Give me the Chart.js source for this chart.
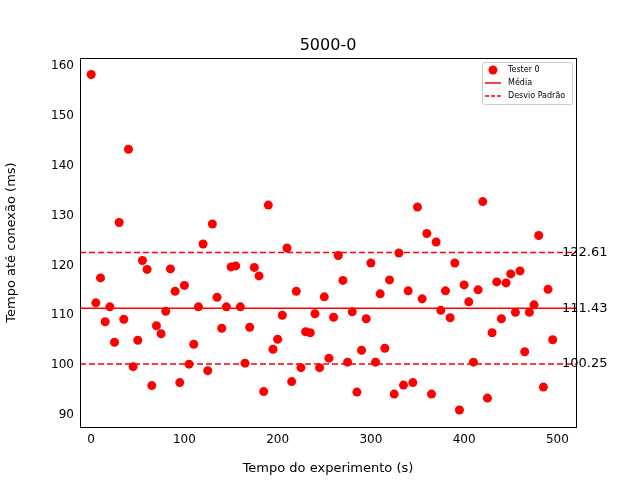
<!DOCTYPE html>
<html><head><script src="https://cdn.jsdelivr.net/npm/chart.js"></script>
<style>body{margin:0}</style></head><body>
<canvas id="c" width="640" height="480" style="width:640px;height:480px"></canvas>
<script>
const times = [0,5,10,15,20,25,30,35,40,45,50,55,60,65,70,75,80,85,90,95,100,105,110,115,120,125,130,135,140,145,150,155,160,165,170,175,180,185,190,195,200,205,210,215,220,225,230,235,240,245,250,255,260,265,270,275,280,285,290,295,300,305,310,315,320,325,330,335,340,345,350,355,360,365,370,375,380,385,390,395,400,405,410,415,420,425,430,435,440,445,450,455,460,465,470,475,480,485,490,495];
const values = [158.3,112.5,117.5,108.7,111.7,104.6,128.6,109.2,143.3,99.7,105,121,119.2,95.9,107.9,106.3,110.8,119.3,114.8,96.5,116,100.2,104.2,111.7,124.3,98.9,128.3,113.6,107.4,111.7,119.7,119.9,111.7,100.4,107.6,119.6,117.9,94.7,132.1,103.2,105.2,110,123.5,96.7,114.8,99.5,106.7,106.5,110.3,99.5,113.7,101.4,109.6,122,117,100.6,110.7,94.6,103,109.3,120.5,100.6,114.3,103.4,117.1,94.2,122.5,96,114.9,96.5,131.7,113.3,126.4,94.2,124.7,111,114.9,109.5,120.5,91,116.1,112.7,100.6,115.1,132.8,93.4,106.5,116.7,109.3,116.5,118.3,110.6,118.9,102.7,110.6,112.1,126,95.6,115.2,105.1];
const mean = 111.43, upper = 122.61, lower = 100.25;
const xTicks = [0,100,200,300,400,500];
const yTicks = [90,100,110,120,130,140,150,160];
const F = 'DejaVu Sans';
const hline = (v, dash) => ({type:'line', data:[{x:-12,y:v},{x:520,y:v}], borderColor:'#ff0000', borderWidth:1.5, borderDash:dash, pointRadius:0, fill:false});
const deco = {
  id:'deco',
  afterDraw(ch){
    const c = ch.ctx, ys = ch.scales.y, xs = ch.scales.x;
    c.save();
    c.font = '13px '+F; c.fillStyle='#000'; c.textBaseline='middle';
    [upper,mean,lower].forEach(v=>c.fillText(v.toFixed(2), xs.getPixelForValue(505), ys.getPixelForValue(v)));
    c.font='16px '+F; c.textAlign='center'; c.textBaseline='alphabetic';
    c.fillText('5000-0', (ch.chartArea.left+ch.chartArea.right)/2, 50);
    // legend
    const lx=482, ly=62, w=90, h=42;
    c.fillStyle='rgba(255,255,255,0.8)'; c.strokeStyle='#ccc'; c.lineWidth=1;
    c.beginPath(); c.roundRect(lx+0.5,ly+0.5,w,h,2); c.fill(); c.stroke();
    c.fillStyle='#ff0000';
    c.beginPath(); c.arc(lx+11,ly+8,4.5,0,Math.PI*2); c.fill();
    c.strokeStyle='#ff0000'; c.lineWidth=1.5;
    c.beginPath(); c.moveTo(lx+3,ly+21); c.lineTo(lx+19,ly+21); c.stroke();
    c.setLineDash([4,2]); c.beginPath(); c.moveTo(lx+3,ly+34); c.lineTo(lx+19,ly+34); c.stroke(); c.setLineDash([]);
    c.fillStyle='#000'; c.font='8px '+F; c.textAlign='left'; c.textBaseline='middle';
    c.fillText('Tester 0',lx+26,ly+8); c.fillText('Média',lx+26,ly+21); c.fillText('Desvio Padrão',lx+26,ly+34);
    c.restore();
  }
};
new Chart(document.getElementById('c'), {
  type:'scatter',
  data:{datasets:[
    {data: times.map((t,i)=>({x:t,y:values[i]})), backgroundColor:'#ff0000', borderWidth:0, pointRadius:4.5},
    hline(mean, []), hline(upper,[6,3]), hline(lower,[6,3])
  ]},
  options:{
    responsive:false, animation:false, devicePixelRatio:1,
    layout:{padding:{top:58,right:64,left:0,bottom:0}},
    plugins:{legend:{display:false}, tooltip:{enabled:false}},
    scales:{
      x:{type:'linear', min:-12, max:520, afterFit(s){s.height=53;},
        afterBuildTicks(s){s.ticks=xTicks.map(v=>({value:v}));},
        grid:{display:false, drawTicks:true, tickLength:4, tickColor:'#000'}, border:{color:'#000'},
        ticks:{color:'#000', font:{family:F,size:12}, padding:2},
        title:{display:true, text:'Tempo do experimento (s)', color:'#000', font:{family:F,size:13}, padding:{top:2}}},
      y:{min:87.6, max:161.6, afterFit(s){s.width=80;},
        afterBuildTicks(s){s.ticks=yTicks.map(v=>({value:v}));},
        grid:{display:false, drawTicks:true, tickLength:4, tickColor:'#000'}, border:{color:'#000'},
        ticks:{color:'#000', font:{family:F,size:12}, padding:2},
        title:{display:true, text:'Tempo até conexão (ms)', color:'#000', font:{family:F,size:13}}}
    }
  },
  plugins:[deco, {id:'frame', afterDraw(ch){const c=ch.ctx,a=ch.chartArea;c.save();c.strokeStyle='#000';c.lineWidth=1;c.strokeRect(a.left+0.5,a.top+0.5,a.right-a.left,a.bottom-a.top);c.restore();}}]
});
</script></body></html>
